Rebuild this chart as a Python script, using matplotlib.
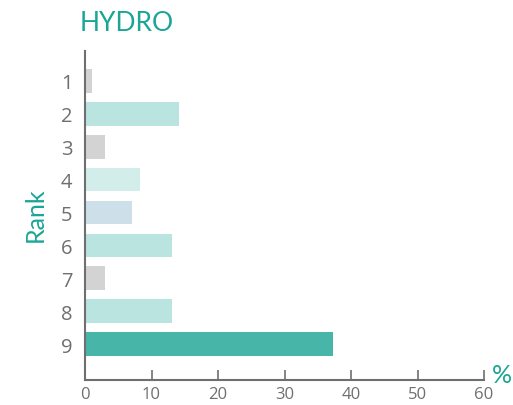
import matplotlib.pyplot as plt

ranks = [1, 2, 3, 4, 5, 6, 7, 8, 9]
values = [1.1, 14.2, 3.0, 8.2, 7.1, 13.1, 3.0, 13.1, 37.3]
colors = ['#d3d3d3', '#b9e4df', '#d3d3d3', '#d3eeea', '#cddfe9',
          '#b9e4df', '#d3d3d3', '#b9e4df', '#48b5a9']
xticks = [0, 10, 20, 30, 40, 50, 60]

teal = '#1aa594'
grey = '#6f6f6f'

fig = plt.figure(figsize=(5.13, 4.06), dpi=100)
ax = fig.add_axes([0.1657, 0.0616, 0.778, 0.8104])

ax.barh(ranks, values, height=0.72, color=colors)

ax.set_xlim(0, 60)
ax.set_ylim(10.09, 0.09)
ax.set_xticks(xticks)
ax.set_yticks(ranks)
ax.tick_params(axis='x', direction='in', length=7, width=1.2, color=grey,
               labelsize=12, labelcolor=grey, pad=4)
ax.tick_params(axis='y', length=0, labelsize=14.5, labelcolor=grey, pad=9)
for lab in ax.get_xticklabels() + ax.get_yticklabels():
    lab.set_fontfamily('Open Sans')

for s in ['top', 'right']:
    ax.spines[s].set_visible(False)
for s in ['left', 'bottom']:
    ax.spines[s].set_color(grey)
    ax.spines[s].set_linewidth(1.5)

fig.text(0.156, 0.943, 'HYDRO', color=teal, fontsize=19, family='Lato',
         ha='left', va='center')
fig.text(0.068, 0.47, 'Rank', color=teal, fontsize=18, family='Lato',
         rotation=90, ha='center', va='center')
fig.text(0.958, 0.075, '%', color=teal, fontsize=18, family='Lato',
         ha='left', va='center')

plt.savefig('out.png', dpi=100)
